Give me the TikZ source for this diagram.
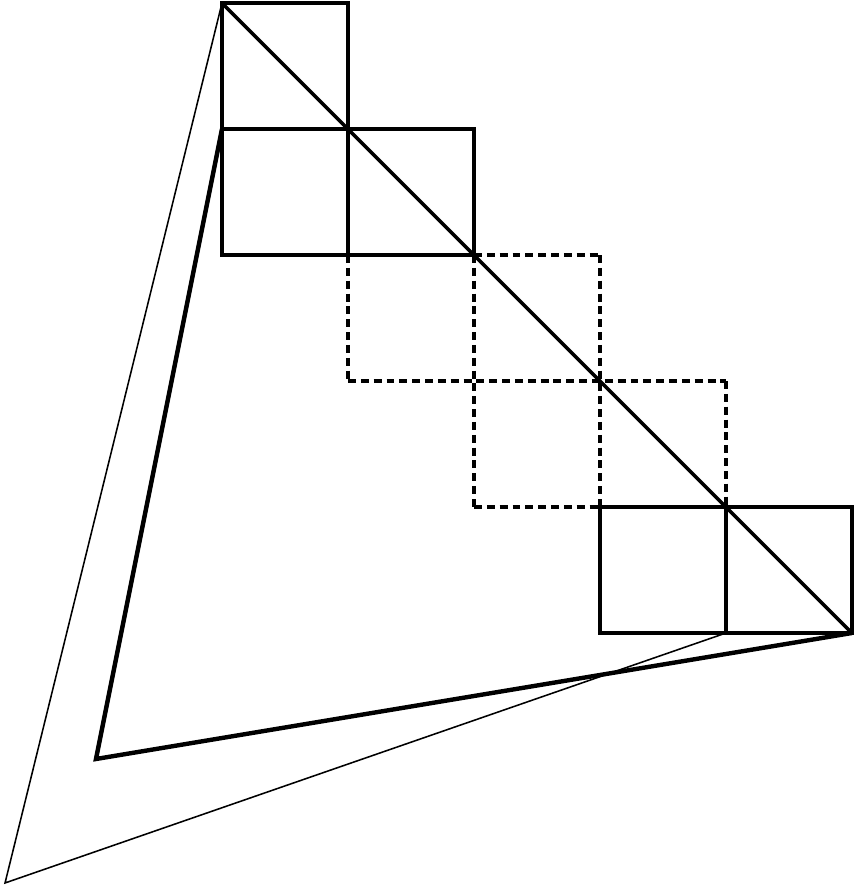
\documentclass[tikz,border=0pt]{standalone}
\usepackage{tikz}
\usetikzlibrary{calc}

\begin{document}
\begin{tikzpicture}[x=2cm,y=-2cm]

\tikzstyle{solid-sq} = [draw=black, line width=2pt]
\tikzstyle{dashed-sq} = [draw=black, line width=2pt, dash pattern=on 3.6pt off 2.2pt]
\tikzstyle{thick-edge} = [draw=black, line width=2pt, line join=miter]
\tikzstyle{thin-edge} = [draw=black, line width=0.7pt]

\useasboundingbox (-1.762,-0.024) rectangle (5.032,7.016);

% corners of the two triangles
\coordinate (apex) at (0,0);
\coordinate (apex2) at (0,1);
\coordinate (low-in) at (-1,6);
\coordinate (low-out) at (-1.722,6.984);
\coordinate (right) at (5,5);
\coordinate (right2) at (4,5);

% dotted squares along the diagonal
\foreach \x/\ya/\yb in {1/2/3,2/2/4,3/2/4,4/3/4}
  \draw[dashed-sq] (\x,\ya) -- (\x,\yb);
\foreach \y/\xa/\xb in {2/2/3,3/1/4,4/2/3}
  \draw[dashed-sq] (\xa,\y) -- (\xb,\y);

% solid squares at both ends
\foreach \i/\j in {0/0,0/1,1/1,3/4,4/4}
  \draw[solid-sq] (\i,\j) rectangle ++(1,1);

\draw[line width=1.6pt] (apex) -- (right);

\draw[thick-edge] (apex2) -- (low-in) -- (right);
\draw[thin-edge] (apex) -- (low-out) -- (right2);

\end{tikzpicture}
\end{document}
